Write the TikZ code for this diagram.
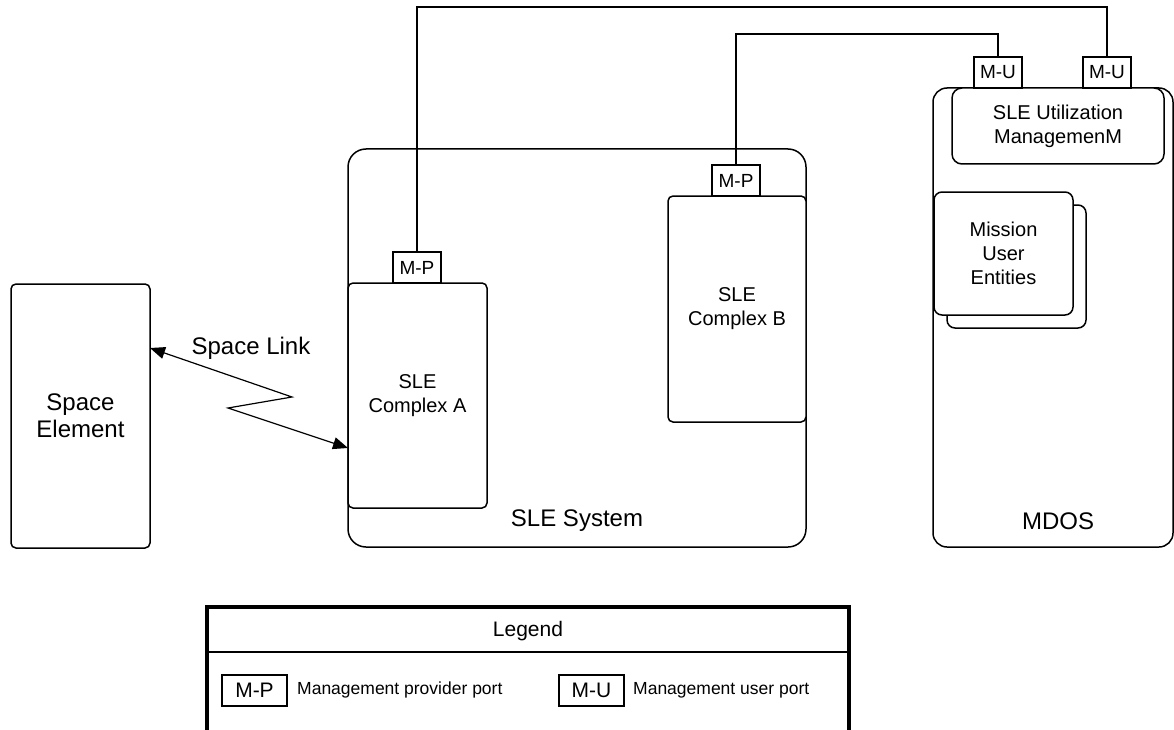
\documentclass[tikz,border=0pt]{standalone}
\usepackage{fontspec}
\setmainfont{Liberation Sans}
\usetikzlibrary{arrows.meta,calc}
\begin{document}
\begin{tikzpicture}[x=1pt,y=-1pt,
  box/.style={draw,line width=1.5pt,rounded corners=5pt,inner sep=0pt,outer sep=0pt,anchor=north west,fill=white},
  port/.style={draw,line width=1.2pt,inner sep=0pt,outer sep=0pt,anchor=north west,minimum width=48pt,minimum height=31pt,fill=white,font=\fontsize{19}{22}\selectfont},
  big/.style={font=\fontsize{24}{27}\selectfont,align=center,inner sep=0pt},
  mid/.style={font=\fontsize{20}{24}\selectfont,align=center,inner sep=0pt},
  small/.style={font=\fontsize{17.5}{20}\selectfont,inner sep=0pt},
  wire/.style={line width=1.2pt},
  tip/.style={-{Triangle[length=15pt,width=12pt]}}]
\useasboundingbox (0,0) rectangle (1174,730);

% Space element
\node[box,minimum width=139pt,minimum height=264pt,big] (se) at (11,284) {Space\\Element};

% SLE system
\node[box,rounded corners=18pt,minimum width=458pt,minimum height=398pt] (sys) at (348,149) {};
\node[big] (syslbl) at (577,521) {SLE System};
\node[box,minimum width=139pt,minimum height=225pt,mid] (cA) at (348,283) {SLE\\Complex A};
\node[box,minimum width=138pt,minimum height=226pt,mid] (cB) at (668,196) {SLE\\Complex B};
\node[port] (mpA) at (393,252) {M-P};
\node[port] (mpB) at (712,165) {M-P};

% MDOS
\node[box,rounded corners=14pt,minimum width=240pt,minimum height=459pt] (mdos) at (933,88) {};
\node[big] (mdoslbl) at (1058,521) {MDOS};
\node[box,rounded corners=10pt,minimum width=212pt,minimum height=76pt,mid] (util) at (952,88) {SLE Utilization\\ManagemenM};
\node[port] (mu1) at (974,57) {M-U};
\node[port] (mu2) at (1083,57) {M-U};
\node[box,rounded corners=8pt,minimum width=139pt,minimum height=123pt] (mueB) at (947,205) {};
\node[box,rounded corners=8pt,minimum width=139pt,minimum height=123pt,mid] (mue) at (934,192) {Mission\\User\\Entities};

% management wires
\coordinate (w1) at (417,7);
\coordinate (w2) at (735,34);
\draw[wire] (mpA.north) -- (mpA.north |- w1) -| (mu2.north);
\draw[wire] (mpB.north) -- (mpB.north |- w2) -| (mu1.north);

% space link
\coordinate (z1) at (292,397);
\coordinate (z2) at (228,408);
\draw[wire,{Triangle[length=15pt,width=12pt]}-{Triangle[length=15pt,width=12pt]}]
  ([yshift=-64pt]se.north east) -- (z1) -- (z2) -- ([yshift=-165pt]cA.north west);
\node[big] (sl) at (251,348) {Space Link};

% legend
\node[draw,line width=4pt,inner sep=0pt,outer sep=0pt,anchor=north west,minimum width=642pt,minimum height=130pt] (leg) at (207,607) {};
\coordinate (hl) at (207,652);
\draw[line width=1.3pt] (hl) -- (hl -| leg.east);
\node[font=\fontsize{21}{24}\selectfont,inner sep=0pt] (legt) at (528,631) {Legend};
\node[port,minimum width=65pt,font=\fontsize{21}{24}\selectfont] (lmp) at (222,675) {M-P};
\node[small,anchor=west] (lmpt) at (297,690) {Management provider port};
\node[port,minimum width=65pt,font=\fontsize{21}{24}\selectfont] (lmu) at (559,675) {M-U};
\node[small,anchor=west] (lmut) at (633,690) {Management user port};
\end{tikzpicture}
\end{document}
